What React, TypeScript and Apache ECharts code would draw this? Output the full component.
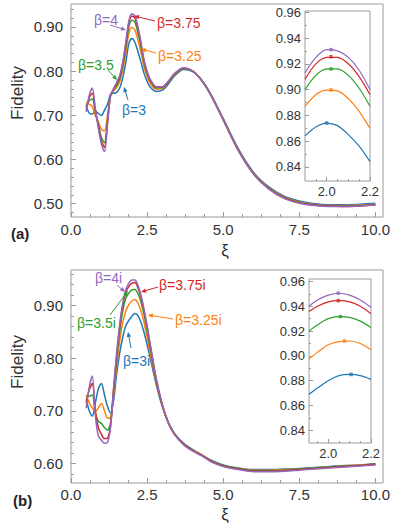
import React, { useEffect, useRef } from "react";
import * as echarts from "echarts";

// ---------- data ----------
const xi = [0.5, 0.6, 0.7, 0.8, 0.9, 1.0, 1.1, 1.2, 1.3, 1.4, 1.5, 1.6, 1.7, 1.8, 1.9, 2.0, 2.1, 2.2, 2.3, 2.4, 2.5, 2.6, 2.8, 3.0, 3.2, 3.4, 3.7, 4.0, 4.3, 4.6, 5.0, 5.5, 6.0, 6.5, 7.0, 7.5, 8.0, 8.5, 9.0, 9.5, 10.0];

const topBeta3 = [0.722, 0.705, 0.703, 0.710, 0.704, 0.700, 0.712, 0.725, 0.748, 0.750, 0.752, 0.762, 0.785, 0.820, 0.862, 0.874, 0.865, 0.844, 0.820, 0.795, 0.777, 0.764, 0.754, 0.757, 0.771, 0.789, 0.804, 0.799, 0.779, 0.747, 0.693, 0.624, 0.571, 0.538, 0.517, 0.506, 0.500, 0.498, 0.498, 0.499, 0.501];
const topBeta325 = [0.730, 0.725, 0.720, 0.700, 0.685, 0.668, 0.665, 0.700, 0.745, 0.755, 0.763, 0.776, 0.803, 0.840, 0.886, 0.899, 0.893, 0.870, 0.842, 0.810, 0.788, 0.772, 0.759, 0.761, 0.775, 0.792, 0.806, 0.800, 0.779, 0.746, 0.691, 0.622, 0.569, 0.536, 0.515, 0.504, 0.498, 0.496, 0.496, 0.497, 0.499];
const topBeta35 = [0.722, 0.733, 0.737, 0.708, 0.680, 0.650, 0.638, 0.690, 0.745, 0.758, 0.768, 0.782, 0.812, 0.853, 0.900, 0.915, 0.911, 0.886, 0.855, 0.818, 0.795, 0.778, 0.762, 0.763, 0.776, 0.793, 0.806, 0.800, 0.779, 0.746, 0.690, 0.621, 0.568, 0.535, 0.514, 0.503, 0.497, 0.495, 0.495, 0.496, 0.498];
const topBeta375 = [0.715, 0.740, 0.750, 0.712, 0.675, 0.642, 0.628, 0.685, 0.745, 0.760, 0.772, 0.787, 0.817, 0.861, 0.908, 0.925, 0.920, 0.896, 0.862, 0.823, 0.798, 0.780, 0.764, 0.764, 0.777, 0.794, 0.807, 0.800, 0.778, 0.745, 0.690, 0.620, 0.567, 0.534, 0.513, 0.502, 0.497, 0.495, 0.494, 0.495, 0.497];
const topBeta4 = [0.708, 0.745, 0.762, 0.715, 0.670, 0.635, 0.618, 0.680, 0.745, 0.760, 0.775, 0.790, 0.820, 0.865, 0.913, 0.930, 0.925, 0.900, 0.865, 0.825, 0.800, 0.782, 0.765, 0.765, 0.778, 0.795, 0.808, 0.800, 0.778, 0.745, 0.690, 0.620, 0.567, 0.533, 0.512, 0.501, 0.496, 0.494, 0.494, 0.495, 0.497];

const botBeta3 = [0.722, 0.700, 0.690, 0.715, 0.742, 0.752, 0.730, 0.708, 0.696, 0.720, 0.770, 0.810, 0.840, 0.862, 0.872, 0.880, 0.885, 0.881, 0.868, 0.849, 0.826, 0.801, 0.750, 0.708, 0.677, 0.657, 0.638, 0.626, 0.616, 0.606, 0.597, 0.591, 0.588, 0.588, 0.589, 0.590, 0.592, 0.594, 0.596, 0.597, 0.599];
const botBeta325 = [0.730, 0.715, 0.705, 0.698, 0.706, 0.714, 0.700, 0.686, 0.687, 0.730, 0.785, 0.833, 0.868, 0.890, 0.902, 0.909, 0.912, 0.905, 0.890, 0.868, 0.840, 0.810, 0.754, 0.709, 0.677, 0.656, 0.637, 0.625, 0.616, 0.605, 0.596, 0.590, 0.587, 0.587, 0.588, 0.589, 0.591, 0.593, 0.595, 0.597, 0.598];
const botBeta35 = [0.727, 0.728, 0.730, 0.695, 0.680, 0.676, 0.668, 0.663, 0.678, 0.738, 0.798, 0.850, 0.890, 0.914, 0.924, 0.930, 0.931, 0.923, 0.907, 0.883, 0.853, 0.820, 0.757, 0.710, 0.677, 0.656, 0.637, 0.625, 0.615, 0.605, 0.596, 0.590, 0.586, 0.586, 0.587, 0.589, 0.591, 0.593, 0.595, 0.596, 0.598];
const botBeta375 = [0.715, 0.740, 0.752, 0.700, 0.668, 0.655, 0.647, 0.648, 0.672, 0.742, 0.805, 0.860, 0.900, 0.925, 0.937, 0.943, 0.944, 0.934, 0.916, 0.890, 0.860, 0.826, 0.760, 0.711, 0.677, 0.655, 0.636, 0.624, 0.615, 0.604, 0.595, 0.589, 0.585, 0.585, 0.586, 0.588, 0.590, 0.592, 0.594, 0.596, 0.598];
const botBeta4 = [0.705, 0.745, 0.766, 0.690, 0.652, 0.644, 0.638, 0.640, 0.668, 0.745, 0.810, 0.865, 0.905, 0.930, 0.943, 0.949, 0.949, 0.939, 0.920, 0.893, 0.862, 0.828, 0.762, 0.712, 0.677, 0.655, 0.635, 0.623, 0.614, 0.603, 0.594, 0.588, 0.584, 0.584, 0.585, 0.587, 0.589, 0.591, 0.593, 0.595, 0.597];

const insetXiTop = [1.9, 1.95, 2.0, 2.05, 2.1, 2.15, 2.2];
const insetTopBeta3 = [0.864, 0.871, 0.874, 0.872, 0.865, 0.856, 0.844];
const insetTopBeta325 = [0.887, 0.896, 0.8995, 0.899, 0.893, 0.883, 0.870];
const insetTopBeta35 = [0.900, 0.911, 0.916, 0.916, 0.911, 0.901, 0.887];
const insetTopBeta375 = [0.908, 0.920, 0.925, 0.925, 0.920, 0.910, 0.896];
const insetTopBeta4 = [0.913, 0.925, 0.931, 0.930, 0.925, 0.915, 0.900];
const peakTopXi = [2.0, 2.02, 2.02, 2.02, 2.02];
const peakTopFid = [0.874, 0.8997, 0.916, 0.9255, 0.931];

const insetXiBot = [1.91, 1.95, 2.0, 2.05, 2.1, 2.15, 2.2];
const insetBotBeta3 = [0.869, 0.874, 0.880, 0.884, 0.885, 0.884, 0.881];
const insetBotBeta325 = [0.8975, 0.903, 0.909, 0.9115, 0.912, 0.910, 0.905];
const insetBotBeta35 = [0.920, 0.925, 0.930, 0.9317, 0.931, 0.928, 0.9228];
const insetBotBeta375 = [0.9357, 0.940, 0.9435, 0.9446, 0.9435, 0.940, 0.934];
const insetBotBeta4 = [0.940, 0.945, 0.949, 0.9505, 0.949, 0.945, 0.939];
const peakBotXi = [2.107, 2.076, 2.057, 2.047, 2.047];
const peakBotFid = [0.885, 0.912, 0.9317, 0.9446, 0.9506];

const labelsTop = ["β=3", "β=3.25", "β=3.5", "β=3.75", "β=4"];
const labelsBot = ["β=3i", "β=3.25i", "β=3.5i", "β=3.75i", "β=4i"];

// tick ranges: [lo, hi, step]
const mainXTicks = [0, 10, 2.5];
const topYTicks = [0.5, 0.9, 0.1];
const topYMinor = [0.48, 0.94, 0.02];
const botYTicks = [0.6, 0.9, 0.1];
const botYMinor = [0.58, 0.96, 0.02];
const insetYTicks = [0.84, 0.96, 0.02];
const insetXTicks = [2.0, 2.2, 0.2];
const insetXMinor = [1.95, 2.2, 0.05];

// ---------- styles / layout ----------
const COLORS = ["#1f77b4", "#ff7f0e", "#2ca02c", "#d62728", "#9467bd"];
const FONT = '"Liberation Sans", Arial, sans-serif';
const FRAME = "#9a9a9a";
const TXT = "#333";

type Frame = { left: number; top: number; width: number; height: number; xmin: number; xmax: number; ymin: number; ymax: number };
const frameTop: Frame = { left: 71, top: 4, width: 312, height: 213, xmin: 0, xmax: 10.25, ymin: 0.47, ymax: 0.952 };
const frameTopInset: Frame = { left: 305, top: 11, width: 65, height: 170, xmin: 1.9, xmax: 2.2, ymin: 0.829, ymax: 0.961 };
const frameBot: Frame = { left: 71, top: 270, width: 312, height: 213, xmin: 0, xmax: 10.25, ymin: 0.5625, ymax: 0.968 };
const frameBotInset: Frame = { left: 309, top: 279, width: 62, height: 164, xmin: 1.91, xmax: 2.2, ymin: 0.8297, ymax: 0.962 };

// annotation placement (pixels): [textX, textY, arrowFromX, arrowFromY, arrowToX, arrowToY]
const annTop: number[][] = [
  [122, 110, 128, 100, 124, 87],
  [158, 56, 156, 53, 141, 49],
  [78, 65, 108, 70, 117, 80],
  [157, 23, 155, 21, 134, 16],
  [94, 20, 110, 25, 126, 30],
];
const annBot: number[][] = [
  [123, 361, 131, 348, 128, 332],
  [175, 320, 173, 319, 148, 315],
  [77, 323, 110, 315, 128, 291],
  [159, 285, 158, 287, 141, 292],
  [95, 278, 117, 285, 125, 292],
];

const pxX = (f: Frame, v: number) => f.left + ((v - f.xmin) / (f.xmax - f.xmin)) * f.width;
const pxY = (f: Frame, v: number) => f.top + ((f.ymax - v) / (f.ymax - f.ymin)) * f.height;

function arrow(x1: number, y1: number, x2: number, y2: number, color: string) {
  const a = Math.atan2(y2 - y1, x2 - x1);
  const L = 5, W = 2.2;
  const bx = x2 - L * Math.cos(a), by = y2 - L * Math.sin(a);
  return [
    { type: "line", shape: { x1, y1, x2: bx, y2: by }, style: { stroke: color, lineWidth: 1 }, z: 20 },
    {
      type: "polygon",
      shape: { points: [[x2, y2], [bx - W * Math.sin(a), by + W * Math.cos(a)], [bx + W * Math.sin(a), by - W * Math.cos(a)]] },
      style: { fill: color }, z: 20,
    },
  ];
}

export default function App() {
  const ref = useRef<HTMLDivElement>(null);
  useEffect(() => {
    if (!ref.current) return;
    const chart = echarts.init(ref.current, undefined, { renderer: "svg" });

    const grids: any[] = [];
    const xAxes: any[] = [];
    const yAxes: any[] = [];
    const series: any[] = [];

    const hiddenAxis = (gridIndex: number, min: number, max: number) => ({ type: "value", gridIndex, min, max, show: false });

    const addFrame = (f: Frame, bg: string) => {
      const idx = grids.length;
      grids.push({ left: f.left, top: f.top, width: f.width, height: f.height, show: true, borderColor: FRAME, borderWidth: 1, backgroundColor: bg, z: 0 });
      xAxes.push(hiddenAxis(idx, f.xmin, f.xmax));
      yAxes.push(hiddenAxis(idx, f.ymin, f.ymax));
      return idx;
    };

    type TickOpts = { len: number; labels: boolean; fontSize?: number; margin?: number; minorSplit?: number; digits?: number };
    const tickAxis = (idx: number, t: number[], opts: TickOpts, digits: number) => ({
      type: "value", gridIndex: idx, min: t[0], max: t[1], interval: t[2],
      axisLine: { show: false },
      axisTick: { show: true, inside: true, length: opts.len, lineStyle: { color: FRAME } },
      minorTick: opts.minorSplit ? { show: true, splitNumber: opts.minorSplit, length: Math.max(2, opts.len - 2), lineStyle: { color: FRAME } } : { show: false },
      splitLine: { show: false },
      axisLabel: opts.labels
        ? { show: true, fontSize: opts.fontSize, color: TXT, fontFamily: FONT, margin: opts.margin, formatter: (v: number) => v.toFixed(digits) }
        : { show: false },
    });
    const addYTicks = (f: Frame, t: number[], opts: TickOpts) => {
      const idx = grids.length;
      const top = pxY(f, t[1]);
      grids.push({ left: f.left, width: f.width, top, height: pxY(f, t[0]) - top, show: false });
      xAxes.push(hiddenAxis(idx, 0, 1));
      yAxes.push(tickAxis(idx, t, opts, 2));
    };
    const addXTicks = (f: Frame, t: number[], opts: TickOpts) => {
      const idx = grids.length;
      const left = pxX(f, t[0]);
      grids.push({ top: f.top, height: f.height, left, width: pxX(f, t[1]) - left, show: false });
      yAxes.push(hiddenAxis(idx, 0, 1));
      xAxes.push(tickAxis(idx, t, opts, 1));
    };

    const addLines = (sets: number[][], xs: number[], axis: number, width: number) => {
      sets.forEach((ys, i) => {
        series.push({
          type: "line", xAxisIndex: axis, yAxisIndex: axis,
          data: xs.map((x, j) => [x, ys[j]]),
          showSymbol: false, smooth: 0.3, color: COLORS[i],
          lineStyle: { width, color: COLORS[i] }, silent: true, z: 3,
        });
      });
    };
    const addPeaks = (px: number[], py: number[], axis: number) => {
      px.forEach((x, i) => {
        series.push({
          type: "scatter", xAxisIndex: axis, yAxisIndex: axis, symbol: "rect", symbolSize: 3.5,
          data: [[x, py[i]]], itemStyle: { color: COLORS[i] }, silent: true, z: 5,
        });
      });
    };

    // ---- panel (a)
    const gTop = addFrame(frameTop, "transparent");
    addLines([topBeta3, topBeta325, topBeta35, topBeta375, topBeta4], xi, gTop, 1.5);
    addYTicks(frameTop, topYMinor, { len: 3, labels: false });
    addYTicks(frameTop, topYTicks, { len: 5, labels: true, fontSize: 15, margin: 8 });
    addXTicks(frameTop, mainXTicks, { len: 5, labels: true, fontSize: 15, margin: 5, minorSplit: 4 });
    const gTopIn = addFrame(frameTopInset, "#fff");
    addLines([insetTopBeta3, insetTopBeta325, insetTopBeta35, insetTopBeta375, insetTopBeta4], insetXiTop, gTopIn, 1.2);
    addPeaks(peakTopXi, peakTopFid, gTopIn);
    addYTicks(frameTopInset, insetYTicks, { len: 4, labels: true, fontSize: 13, margin: 4, minorSplit: 2 });
    addXTicks(frameTopInset, insetXMinor, { len: 2, labels: false });
    addXTicks(frameTopInset, insetXTicks, { len: 4, labels: true, fontSize: 13, margin: 4 });

    // ---- panel (b)
    const gBot = addFrame(frameBot, "transparent");
    addLines([botBeta3, botBeta325, botBeta35, botBeta375, botBeta4], xi, gBot, 1.5);
    addYTicks(frameBot, botYMinor, { len: 3, labels: false });
    addYTicks(frameBot, botYTicks, { len: 5, labels: true, fontSize: 15, margin: 8 });
    addXTicks(frameBot, mainXTicks, { len: 5, labels: true, fontSize: 15, margin: 4, minorSplit: 4 });
    const gBotIn = addFrame(frameBotInset, "#fff");
    addLines([insetBotBeta3, insetBotBeta325, insetBotBeta35, insetBotBeta375, insetBotBeta4], insetXiBot, gBotIn, 1.2);
    addPeaks(peakBotXi, peakBotFid, gBotIn);
    addYTicks(frameBotInset, insetYTicks, { len: 4, labels: true, fontSize: 13, margin: 4, minorSplit: 2 });
    addXTicks(frameBotInset, insetXMinor, { len: 2, labels: false });
    addXTicks(frameBotInset, insetXTicks, { len: 4, labels: true, fontSize: 13, margin: 4 });

    const graphics: any[] = [];
    const addAnn = (ann: number[][], labels: string[]) => {
      ann.forEach((a, i) => {
        graphics.push({
          type: "text", x: a[0], y: a[1], z: 20,
          style: { text: labels[i], fill: COLORS[i], fontSize: 14, fontFamily: FONT, align: "left", verticalAlign: "middle" },
        });
        graphics.push(...arrow(a[2], a[3], a[4], a[5], COLORS[i]));
      });
    };
    addAnn(annTop, labelsTop);
    addAnn(annBot, labelsBot);
    const axisTitle = (text: string, x: number, y: number, rot: number) => ({
      type: "text", x, y, rotation: rot, z: 20,
      style: { text, fill: TXT, fontSize: 17, fontFamily: FONT, align: "center", verticalAlign: "middle" },
    });
    graphics.push(axisTitle("Fidelity", 17, 93, Math.PI / 2));
    graphics.push(axisTitle("Fidelity", 17, 362, Math.PI / 2));
    graphics.push(axisTitle("ξ", 225, 250, 0));
    graphics.push(axisTitle("ξ", 225, 514, 0));
    graphics.push({ type: "text", x: 11, y: 233, style: { text: "(a)", fill: "#222", fontSize: 15, fontWeight: "bold", fontFamily: FONT, verticalAlign: "middle" } });
    graphics.push({ type: "text", x: 13, y: 500, style: { text: "(b)", fill: "#222", fontSize: 15, fontWeight: "bold", fontFamily: FONT, verticalAlign: "middle" } });

    chart.setOption({
      animation: false,
      backgroundColor: "#fff",
      grid: grids,
      xAxis: xAxes,
      yAxis: yAxes,
      series,
      graphic: graphics,
    });
    return () => chart.dispose();
  }, []);
  return <div ref={ref} style={{ position: "fixed", left: 0, top: 0, width: 399, height: 525 }} />;
}
